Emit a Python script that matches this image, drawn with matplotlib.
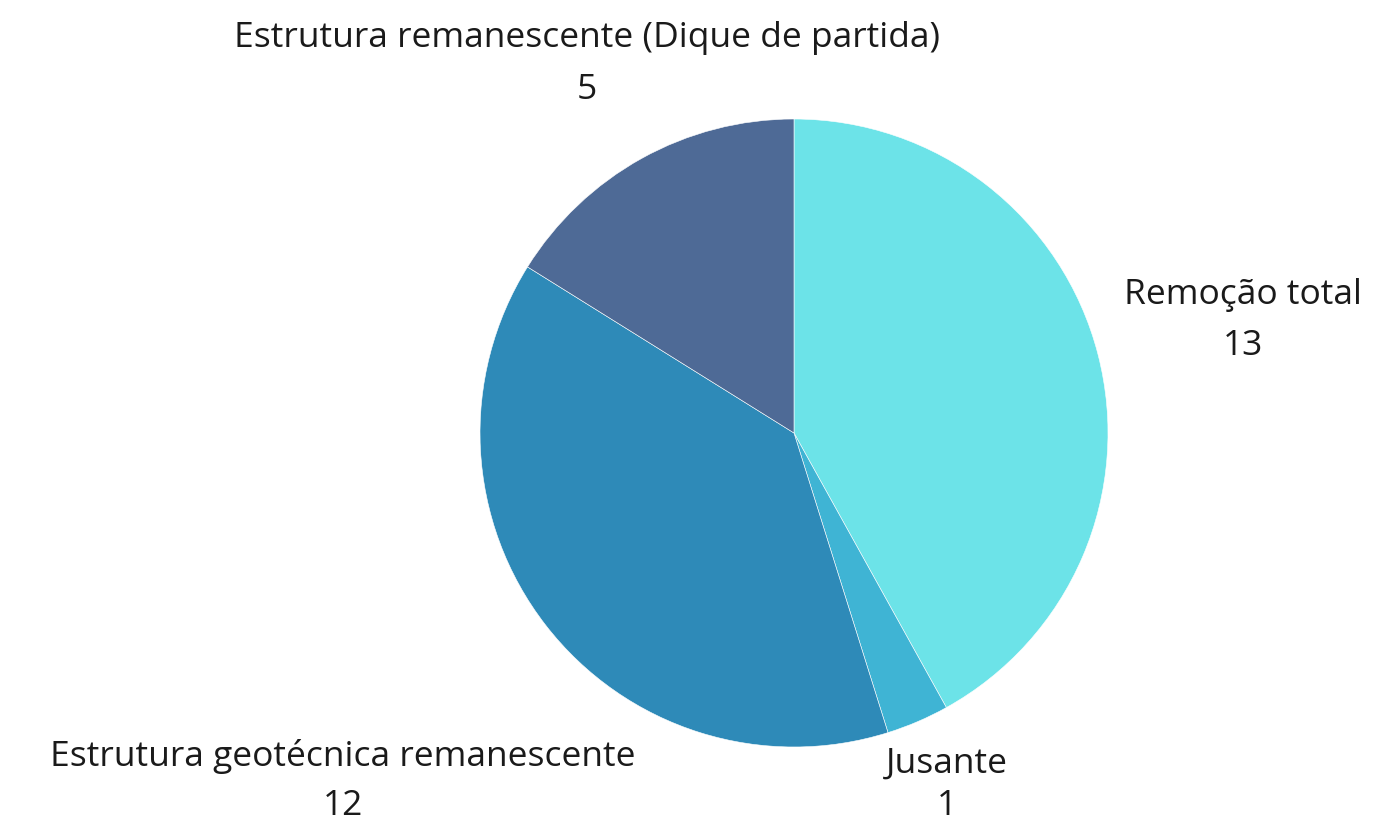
import matplotlib
matplotlib.use("Agg")
import matplotlib.pyplot as plt

# Data
categories = ["Remoção total", "Jusante", "Estrutura geotécnica remanescente",
              "Estrutura remanescente (Dique de partida)"]
values = [13, 1, 12, 5]
colors = ["#6ce3e8", "#3fb4d4", "#2e8ab8", "#4e6a96"]

plt.rcParams["font.family"] = ["Open Sans", "DejaVu Sans"]

W, H = 1379, 827
fig = plt.figure(figsize=(W / 100, H / 100), dpi=100)
ax = fig.add_axes([0, 0, 1, 1])
ax.set_aspect("equal")
ax.axis("off")

ax.pie(values, colors=colors, startangle=90, counterclock=False,
       center=(794, H - 433), radius=314,
       wedgeprops=dict(edgecolor="white", linewidth=0.4))
ax.set_xlim(0, W)
ax.set_ylim(0, H)

# label positions (pixel coords: x centre, name line y, value line y)
label_pos = [(1243, 295, 346), (947, 764, 806), (343, 757, 806), (587, 38, 90)]
for name, val, (x, y1, y2) in zip(categories, values, label_pos):
    ax.text(x, H - y1, name, ha="center", va="center", fontsize=25.5, color="#1a1a1a")
    ax.text(x, H - y2, str(val), ha="center", va="center", fontsize=25.5, color="#1a1a1a")

plt.savefig("out.png", dpi=100)
